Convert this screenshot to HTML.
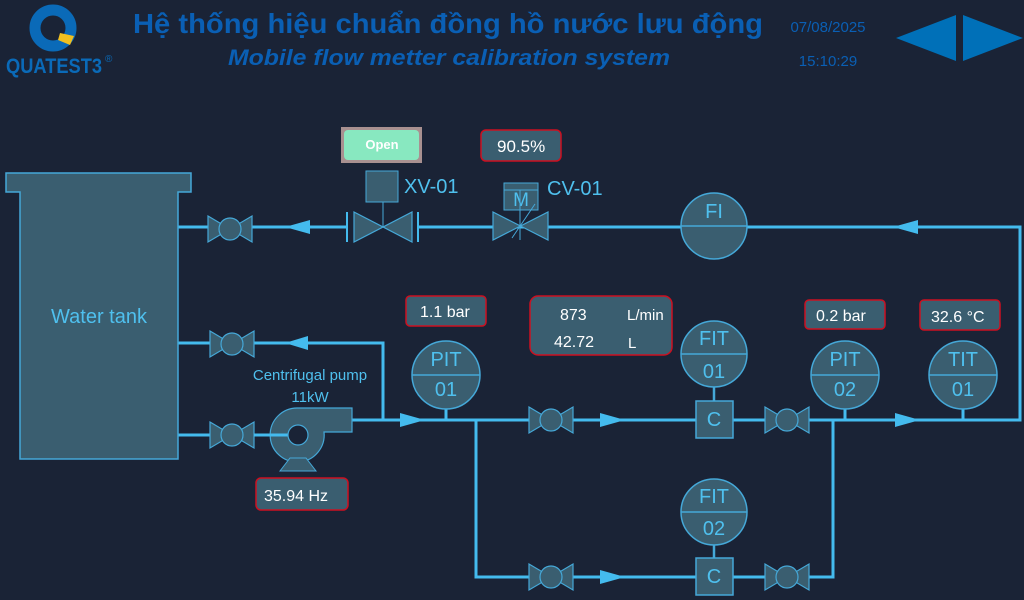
<!DOCTYPE html>
<html><head><meta charset="utf-8"><style>
html,body{margin:0;padding:0;background:#1a2336;width:1024px;height:600px;overflow:hidden}
svg{display:block}
text{font-family:"Liberation Sans","DejaVu Sans",sans-serif}
</style></head><body>
<svg width="1024" height="600" viewBox="0 0 1024 600" xmlns="http://www.w3.org/2000/svg">
<rect width="1024" height="600" fill="#1a2336"/>
<!-- logo -->
<circle cx="53" cy="28" r="18" fill="none" stroke="#0a6ab8" stroke-width="11"/>
<path d="M60 33 L74 36 L70 45 L58 40Z" fill="#f0c020"/>
<text x="6" y="73" font-size="21" font-weight="bold" fill="#0a6ab8" textLength="96" lengthAdjust="spacingAndGlyphs">QUATEST3</text>
<text x="105" y="62" font-size="10" fill="#0a6ab8">®</text>
<!-- title -->
<text x="448" y="33" font-size="28" font-weight="bold" fill="#0a5fb4" text-anchor="middle" textLength="630" lengthAdjust="spacingAndGlyphs">Hệ thống hiệu chuẩn đồng hồ nước lưu động</text>
<text x="449" y="65" font-size="22" font-weight="bold" font-style="italic" fill="#0a5fb4" text-anchor="middle" textLength="442" lengthAdjust="spacingAndGlyphs">Mobile flow metter calibration system</text>
<text x="828" y="32" font-size="15" fill="#0a5fb4" text-anchor="middle">07/08/2025</text>
<text x="828" y="66" font-size="15" fill="#0a5fb4" text-anchor="middle">15:10:29</text>
<polygon points="896,38 956,15 956,61" fill="#0070b8"/>
<polygon points="963,15 1023,38 963,61" fill="#0070b8"/>
<!-- pipes -->
<g stroke="#44bbee" stroke-width="3" fill="none">
<polyline points="178,227 348,227"/>
<polyline points="418,227 1020,227 1020,420 352,420"/>
<polyline points="178,343 383,343 383,420"/>
<polyline points="178,435 300,435"/>
<polyline points="476,420 476,577 833,577 833,420"/>
</g>
<g stroke="#44bbee" stroke-width="2">
<line x1="347" y1="212" x2="347" y2="242"/><line x1="418" y1="212" x2="418" y2="242"/>
</g>
<!-- arrows -->
<g fill="#44bbee">
<polygon points="285,227 310,220 310,234"/>
<polygon points="893,227 918,220 918,234"/>
<polygon points="285,343 308,336 308,350"/>
<polygon points="400,413 400,427 425,420"/>
<polygon points="600,413 600,427 625,420"/>
<polygon points="895,413 895,427 920,420"/>
<polygon points="600,570 600,584 625,577"/>
</g>
<!-- tank -->
<path d="M6 173 H191 V192 H178 V459 H20 V192 H6Z" fill="#3a5e70" stroke="#45a8d8" stroke-width="1.5"/>
<text x="99" y="323" font-size="20" fill="#4fc0ee" text-anchor="middle">Water tank</text>
<defs>
<g id="hv"><polygon points="-22,-13 22,13 22,-13 -22,13" fill="#3a5e70" stroke="#45a8d8" stroke-width="1.2"/><circle r="11" fill="#3a5e70" stroke="#45a8d8" stroke-width="1.2"/></g>
</defs>
<use href="#hv" x="230" y="229"/>
<use href="#hv" x="232" y="344"/>
<use href="#hv" x="232" y="435"/>
<use href="#hv" x="551" y="420"/>
<use href="#hv" x="787" y="420"/>
<use href="#hv" x="551" y="577"/>
<use href="#hv" x="787" y="577"/>
<!-- XV-01 -->
<polygon points="354,212 412,242 412,212 354,242" fill="#3a5e70" stroke="#45a8d8" stroke-width="1.2"/>
<line x1="383" y1="202" x2="383" y2="227" stroke="#45a8d8"/>
<rect x="366" y="171" width="32" height="31" fill="#3a5e70" stroke="#45a8d8"/>
<text x="404" y="193" font-size="20" fill="#4fc0ee">XV-01</text>
<!-- CV-01 -->
<polygon points="493,212 548,240 548,212 493,240" fill="#3a5e70" stroke="#45a8d8" stroke-width="1.2"/>
<rect x="504" y="183" width="34" height="27" fill="#3a5e70" stroke="#45a8d8"/>
<line x1="504" y1="190" x2="538" y2="190" stroke="#45a8d8"/>
<text x="521" y="206" font-size="19" fill="#4fc0ee" text-anchor="middle">M</text>
<line x1="520" y1="190" x2="520" y2="240" stroke="#45a8d8"/>
<line x1="512" y1="238" x2="535" y2="204" stroke="#45a8d8"/>
<text x="547" y="195" font-size="20" fill="#4fc0ee">CV-01</text>
<!-- open btn -->
<rect x="341" y="127" width="81" height="36" fill="#a89090"/>
<rect x="344" y="130" width="75" height="30" rx="4" fill="#88e8c0"/>
<text x="382" y="149" font-size="13" font-weight="bold" fill="#fff" text-anchor="middle">Open</text>
<!-- instruments -->
<g stroke="#45a8d8" stroke-width="1.5" fill="#3a5e70">
<line x1="446" y1="408" x2="446" y2="420" stroke-width="3" stroke="#44bbee"/>
<line x1="714" y1="386" x2="714" y2="401" stroke-width="2.5"/>
<line x1="714" y1="544" x2="714" y2="558" stroke-width="2.5"/>
<line x1="845" y1="407" x2="845" y2="420" stroke-width="3" stroke="#44bbee"/>
<line x1="963" y1="407" x2="963" y2="420" stroke-width="3" stroke="#44bbee"/>
<circle cx="714" cy="226" r="33"/><line x1="681" y1="226" x2="747" y2="226"/>
<circle cx="446" cy="375" r="34"/><line x1="412" y1="375" x2="480" y2="375"/>
<circle cx="714" cy="354" r="33"/><line x1="681" y1="354" x2="747" y2="354"/>
<circle cx="845" cy="375" r="34"/><line x1="811" y1="375" x2="879" y2="375"/>
<circle cx="963" cy="375" r="34"/><line x1="929" y1="375" x2="997" y2="375"/>
<circle cx="714" cy="512" r="33"/><line x1="681" y1="512" x2="747" y2="512"/>
<rect x="696" y="401" width="37" height="37"/>
<rect x="696" y="558" width="37" height="37"/>
</g>
<g font-size="20" fill="#4fc0ee" text-anchor="middle">
<text x="714" y="218">FI</text>
<text x="446" y="366">PIT</text><text x="446" y="396">01</text>
<text x="714" y="345">FIT</text><text x="714" y="378">01</text>
<text x="845" y="366">PIT</text><text x="845" y="396">02</text>
<text x="963" y="366">TIT</text><text x="963" y="396">01</text>
<text x="714" y="503">FIT</text><text x="714" y="535">02</text>
<text x="714" y="426">C</text><text x="714" y="583">C</text>
</g>
<!-- pump -->
<path d="M298 408 H352 V432 H324 A27 27 0 1 1 298 408Z" fill="#3a5e70" stroke="#45a8d8" stroke-width="1.2"/>
<polygon points="280,471 316,471 306,458 290,458" fill="#3a5e70" stroke="#45a8d8"/>
<line x1="254" y1="435" x2="290" y2="435" stroke="#44bbee" stroke-width="3"/>
<circle cx="298" cy="435" r="10" fill="#1a2336" stroke="#45a8d8" stroke-width="1.2"/>
<text x="310" y="380" font-size="15" fill="#4fc0ee" text-anchor="middle">Centrifugal pump</text>
<text x="310" y="402" font-size="15" fill="#4fc0ee" text-anchor="middle">11kW</text>
<!-- value boxes -->
<g fill="#3a5e70" stroke="#cc1020" stroke-width="1.5">
<rect x="481" y="130" width="80" height="31" rx="5"/>
<rect x="406" y="296" width="80" height="30" rx="4"/>
<rect x="530" y="296" width="142" height="59" rx="8"/>
<rect x="805" y="300" width="80" height="29" rx="4"/>
<rect x="920" y="300" width="80" height="30" rx="4"/>
<rect x="256" y="478" width="92" height="32" rx="5"/>
</g>
<g fill="#fff" font-size="16">
<text x="497" y="152" font-size="17">90.5%</text>
<text x="420" y="317">1.1 bar</text>
<text x="560" y="320">873</text><text x="627" y="320" font-size="15">L/min</text>
<text x="554" y="347">42.72</text><text x="628" y="348" font-size="15">L</text>
<text x="816" y="321">0.2 bar</text>
<text x="931" y="322">32.6 °C</text>
<text x="264" y="501">35.94 Hz</text>
</g>
</svg>
</body></html>
